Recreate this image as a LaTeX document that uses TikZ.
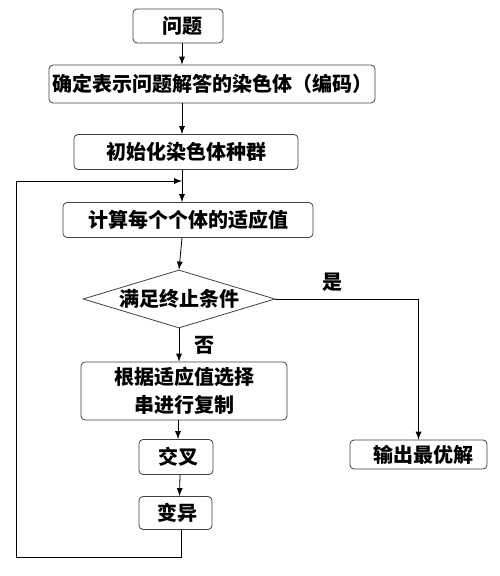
\documentclass[tikz,border=0pt]{standalone}
\usepackage{fontspec}
\newfontfamily\cjk{Noto Sans CJK SC}
\usetikzlibrary{shapes.geometric}
\begin{document}
\begin{tikzpicture}[>=latex, x=0.5pt, y=-0.5pt,
  box/.style={draw=black!75, rounded corners=2pt, inner sep=0pt, align=center,
    font=\cjk\bfseries\fontsize{10}{14}\selectfont},
  decide/.style={draw=black!75, diamond, inner sep=0pt, aspect=3.3,
    font=\cjk\bfseries\fontsize{10}{14}\selectfont},
  lbl/.style={font=\cjk\bfseries\fontsize{10}{14}\selectfont}]
\useasboundingbox (0,0) rectangle (499,576);
\coordinate (spine) at (182,0);
\node[box, minimum width=45pt, minimum height=17pt] (prob) at (178,26) {\ \ 问题};
\node[box, minimum width=163pt, minimum height=19pt] (code) at (212,84) {确定表示问题解答的染色体（编码）};
\node[box, minimum width=112pt, minimum height=17.5pt] (init) at (186,152) {初始化染色体种群};
\node[box, minimum width=125pt, minimum height=17.5pt] (fit) at (188,220) {计算每个个体的适应值};
\node[decide, minimum width=96pt, minimum height=29pt] (cond) at (179,299) {满足终止条件};
\node[box, minimum width=103pt, minimum height=29pt] (sel) at (184,391) {根据适应值选择\\串进行复制};
\node[box, minimum width=37pt, minimum height=17.5pt] (cross) at (176,457) {\ 交叉};
\node[box, minimum width=36.5pt, minimum height=16.5pt] (mut) at (175.5,513) {\ 变异};
\node[box, minimum width=68.5pt, minimum height=14.5pt] (out) at (418.5,454.5) {\ \ 输出最优解};
\coordinate (loopin) at (182,181);
\coordinate (corner) at (16,557);
% main line
\draw[->] (prob.south -| spine) -- (code.north -| spine);
\draw[->] (code.south -| spine) -- (init.north -| spine);
\draw (init.south -| spine) -- (loopin);
\draw[->] (loopin) -- (fit.north -| spine);
\draw[->] (fit.south -| spine) -- (cond.north);
\draw[->] (cond.south) -- node[lbl, right=4pt, pos=0.5] {否} (sel.north -| cond.south);
\draw[->] (sel.south -| cross.north) ++(2,0) -- ([xshift=1pt]cross.north);
\draw[->] ([xshift=2pt]cross.south) -- ([xshift=2pt]mut.north);
\draw[->] (cond.east) -| node[lbl, above, pos=0.2] {是} (out.north);
% loop back
\draw[->] ([xshift=3pt]mut.south) |- (corner) |- (loopin);
\end{tikzpicture}
\end{document}
